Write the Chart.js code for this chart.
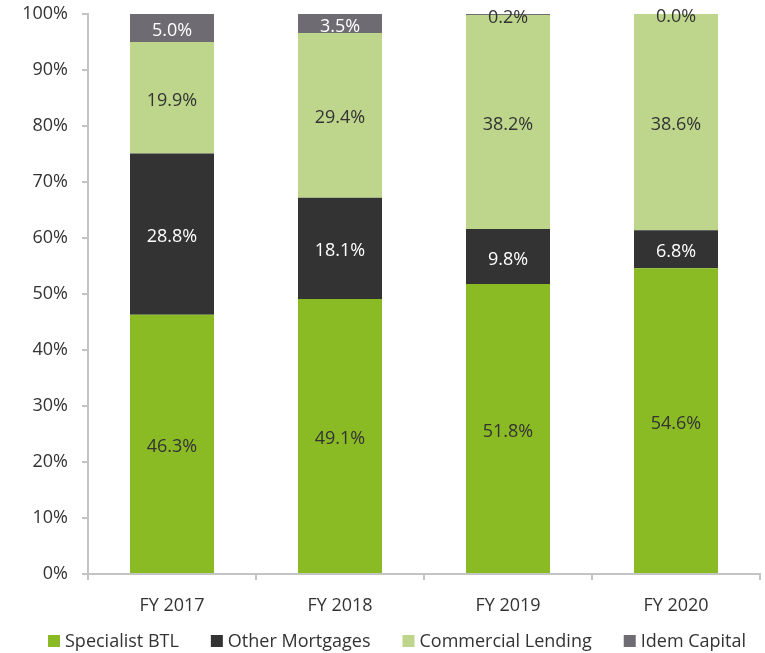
<!DOCTYPE html>
<html>
<head>
<meta charset="utf-8">
<script src="https://cdn.jsdelivr.net/npm/chart.js@4.4.0/dist/chart.umd.min.js"></script>
<style>
  html, body { margin: 0; padding: 0; background: #fff; }
  #wrap { width: 765px; height: 653px; }
</style>
</head>
<body>
<div id="wrap"><canvas id="mixChart"></canvas></div>
<script>
// Loan book mix by year (%)
const years = ["FY 2017", "FY 2018", "FY 2019", "FY 2020"];
const specialistBtl = [46.3, 49.1, 51.8, 54.6];
const otherMortgages = [28.8, 18.1, 9.8, 6.8];
const commercialLending = [19.9, 29.4, 38.2, 38.6];
const idemCapital = [5.0, 3.5, 0.2, 0.0];
const yTicks = [0, 10, 20, 30, 40, 50, 60, 70, 80, 90, 100];

const FONT = '"Open Sans", sans-serif';
const FONT_SIZE = 18;
const axisGray = '#c4c4c4';
const textDark = '#333333';

//Write the value in the middle of every segment
const segmentLabels = {
  id: 'segmentLabels',
  afterDatasetsDraw(chart) {
    const ctx = chart.ctx;
    ctx.save();
    ctx.font = FONT_SIZE + 'px ' + FONT;
    ctx.textAlign = 'center';
    ctx.textBaseline = 'middle';
    chart.data.datasets.forEach((ds, i) => {
      const meta = chart.getDatasetMeta(i);
      meta.data.forEach((bar, j) => {
        const v = ds.data[j];
        const top = Math.max(bar.y, chart.chartArea.top);
        const y = (top + bar.base) / 2;
        ctx.fillStyle = (ds.darkFill && v >= 1) ? '#ffffff' : textDark;
        ctx.fillText(v.toFixed(1) + '%', bar.x, y + 3);
      });
    });
    ctx.restore();
  }
};

//Legend row along the bottom, square swatch + name
const bottomLegend = {
  id: 'bottomLegend',
  afterDraw(chart) {
    const ctx = chart.ctx;
    const box = 12, gapText = 5, gapItem = 32;
    ctx.save();
    ctx.font = FONT_SIZE + 'px ' + FONT;
    ctx.textBaseline = 'middle';
    ctx.textAlign = 'left';
    const items = chart.data.datasets.map(ds => ({
      text: ds.label, color: ds.backgroundColor, w: ctx.measureText(ds.label).width
    }));
    let total = 0;
    items.forEach((it, i) => { total += box + gapText + it.w + (i < items.length - 1 ? gapItem : 0); });
    let x = Math.round(397 - total / 2);
    const y = 641;
    items.forEach(it => {
      ctx.fillStyle = it.color;
      ctx.fillRect(x, y - box / 2, box, box);
      x += box + gapText;
      ctx.fillStyle = textDark;
      ctx.fillText(it.text, x, y + 1);
      x += it.w + gapItem;
    });
    ctx.restore();
  }
};

const mixChart = new Chart("mixChart", {
  type: "bar",
  data: {
    labels: years,
    datasets: [
      { label: "Specialist BTL", data: specialistBtl, backgroundColor: "#8aba24" },
      { label: "Other Mortgages", data: otherMortgages, backgroundColor: "#333333", darkFill: true },
      { label: "Commercial Lending", data: commercialLending, backgroundColor: "#bed68c" },
      { label: "Idem Capital", data: idemCapital, backgroundColor: "#6e6b72", darkFill: true }
    ]
  },
  options: {
    responsive: true,
    maintainAspectRatio: false,
    animation: false,
    layout: { padding: { left: 0, right: 5, top: 14, bottom: 39 } },
    datasets: {
      bar: { categoryPercentage: 1.0, barPercentage: 0.5 }
    },
    plugins: {
      tooltip: { enabled: false },
      legend: { display: false }
    },
    scales: {
      x: {
        stacked: true,
        grid: { drawOnChartArea: false, tickLength: 6, color: axisGray, lineWidth: 2 },
        border: { color: axisGray, width: 2 },
        ticks: { color: textDark, padding: 15, font: { family: FONT, size: FONT_SIZE } },
        afterFit(scale) { scale.height = 40; }
      },
      y: {
        stacked: true,
        min: 0,
        max: 100,
        afterBuildTicks(scale) { scale.ticks = yTicks.map(v => ({ value: v })); },
        grid: { drawOnChartArea: false, tickLength: 6, color: axisGray, lineWidth: 2 },
        border: { color: axisGray, width: 2 },
        ticks: {
          color: textDark,
          padding: 14,
          font: { family: FONT, size: FONT_SIZE },
          callback: v => v + '%'
        },
        afterFit(scale) {
          scale.width = 88;
          scale.paddingTop = 0;
          scale.paddingBottom = 0;
        }
      }
    }
  },
  plugins: [segmentLabels, bottomLegend]
});
</script>
</body>
</html>
